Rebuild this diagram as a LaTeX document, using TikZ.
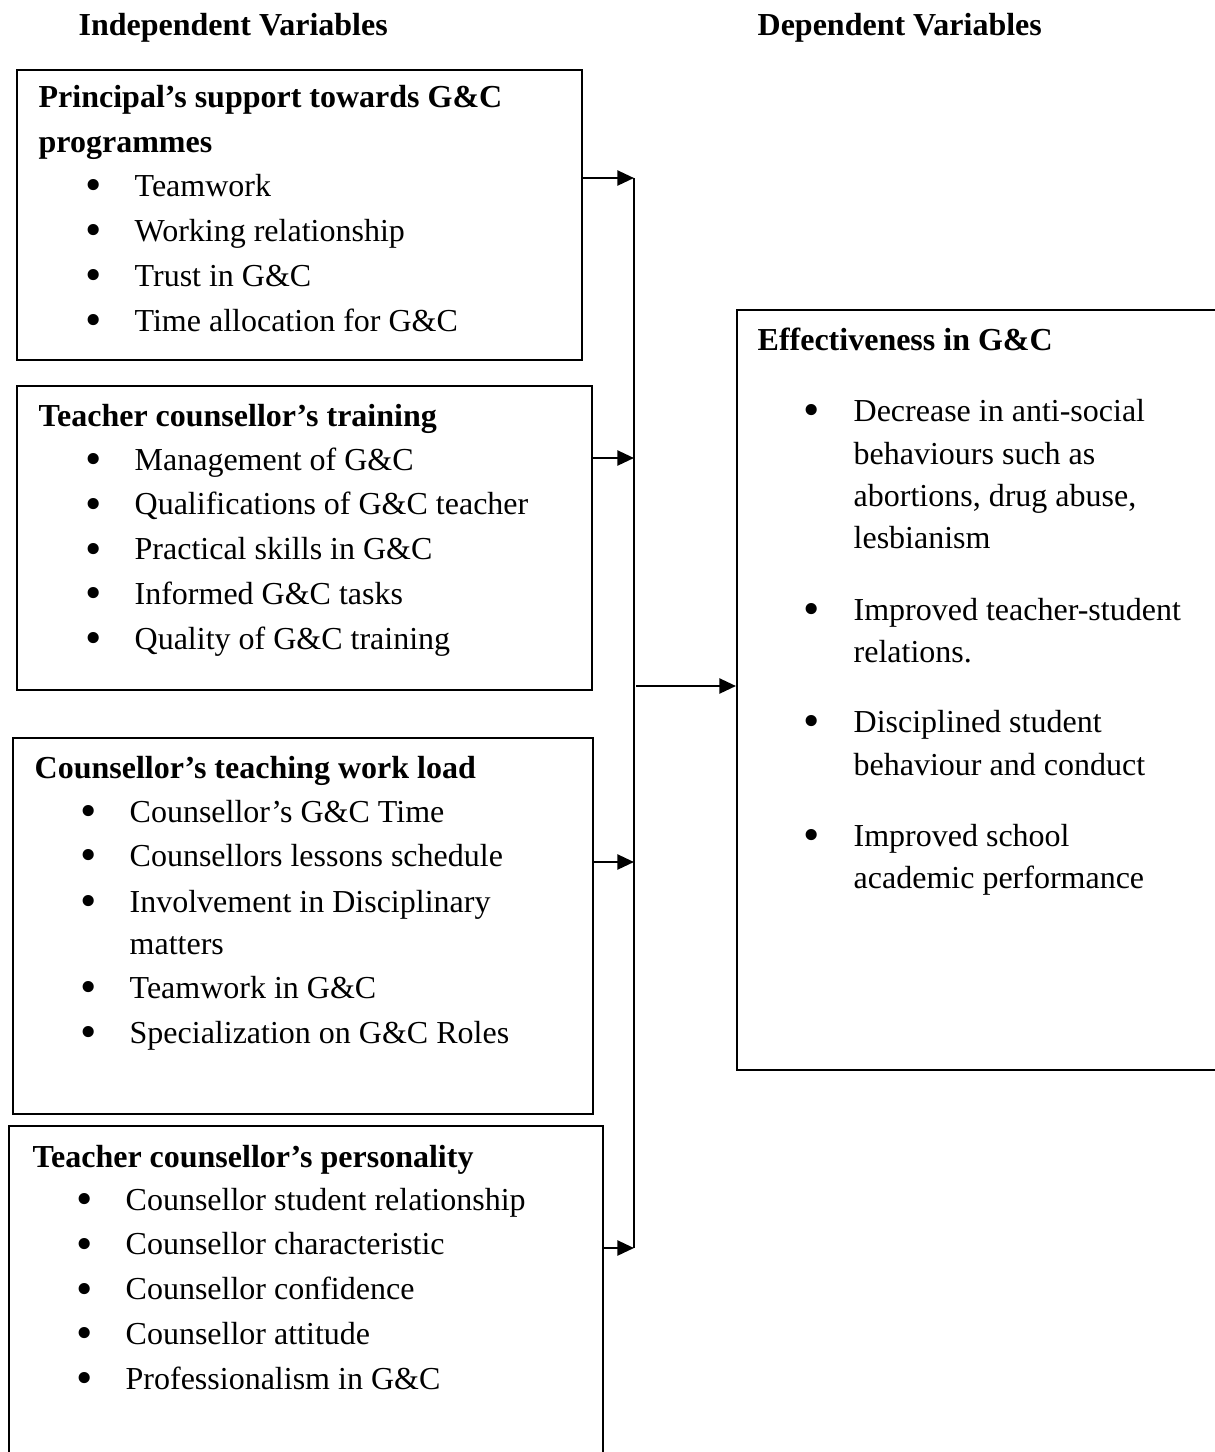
\documentclass[tikz,border=0pt]{standalone}
\usepackage{fontspec}
\setmainfont{Liberation Serif}
\usetikzlibrary{arrows.meta,fit}
\begin{document}
\begin{tikzpicture}[x=0.3pt,y=-0.3pt,
 txt/.style={anchor=base west, inner sep=0pt, font=\fontsize{9.6}{12}\selectfont},
 ttl/.style={anchor=base west, inner sep=0pt, font=\fontsize{9.6}{12}\selectfont\bfseries},
 bul/.style={anchor=base, inner sep=0pt, yshift=-1.35pt, font=\fontsize{14}{14}\selectfont},
 box/.style={draw, line width=0.6pt, inner sep=0pt},
 conn/.style={line width=0.75pt},
 arr/.style={conn, -{Triangle[length=5pt,width=4.5pt]}}]
\useasboundingbox (0,0) rectangle (1215,1452);

% headers
\node[ttl] (h1) at (78,35) {Independent Variables};
\node[ttl] (h2) at (757,35) {Dependent Variables};

% boxes
\node[box, fit={(17,70) (582,360)}] (b1) {};
\node[box, fit={(17,386) (592,690)}] (b2) {};
\node[box, fit={(13,738) (593,1114)}] (b3) {};
\node[box, fit={(9,1126) (603,1470)}] (b4) {};
\node[box, fit={(737,310) (1225,1070)}] (rb) {};

% box 1
\node[ttl] (t1a) at (38,107) {Principal’s support towards G\&C};
\node[ttl] (t1b) at (38,152) {programmes};
\foreach \t [count=\i] in {Teamwork,Working relationship,Trust in G\&C,Time allocation for G\&C}{
  \node[bul] (p1b\i) at (94,{196+45*(\i-1)}) {•};
  \node[txt] (p1t\i) at (134,{196+45*(\i-1)}) {\t};
}

% box 2
\node[ttl] (t2) at (38,426) {Teacher counsellor’s training};
\foreach \t [count=\i] in {Management of G\&C,Qualifications of G\&C teacher,Practical skills in G\&C,Informed G\&C tasks,Quality of G\&C training}{
  \node[bul] (p2b\i) at (94,{470+44.75*(\i-1)}) {•};
  \node[txt] (p2t\i) at (134,{470+44.75*(\i-1)}) {\t};
}

% box 3
\node[ttl] (t3) at (34,778) {Counsellor’s teaching work load};
\node[bul] (p3b1) at (89,822) {•};
\node[txt] (p3t1) at (129,822) {Counsellor’s G\&C Time};
\node[bul] (p3b2) at (89,866) {•};
\node[txt] (p3t2) at (129,866) {Counsellors lessons schedule};
\node[bul] (p3b3) at (89,912) {•};
\node[txt] (p3t3) at (129,912) {Involvement in Disciplinary};
\node[txt] (p3t3b) at (129,954) {matters};
\node[bul] (p3b4) at (89,998) {•};
\node[txt] (p3t4) at (129,998) {Teamwork in G\&C};
\node[bul] (p3b5) at (89,1043) {•};
\node[txt] (p3t5) at (129,1043) {Specialization on G\&C Roles};

% box 4
\node[ttl] (t4) at (32,1167) {Teacher counsellor’s personality};
\foreach \t [count=\i] in {Counsellor student relationship,Counsellor characteristic,Counsellor confidence,Counsellor attitude,Professionalism in G\&C}{
  \node[bul] (p4b\i) at (85,{1210+44.75*(\i-1)}) {•};
  \node[txt] (p4t\i) at (125,{1210+44.75*(\i-1)}) {\t};
}

% right box
\node[ttl] (tr) at (757,350) {Effectiveness in G\&C};
\node[bul] (rb1) at (812,421) {•};
\node[txt] (rt1a) at (853,421) {Decrease in anti-social};
\node[txt] (rt1b) at (853,464) {behaviours such as};
\node[txt] (rt1c) at (853,506) {abortions, drug abuse,};
\node[txt] (rt1d) at (853,548) {lesbianism};
\node[bul] (rb2) at (812,620) {•};
\node[txt] (rt2a) at (853,620) {Improved teacher-student};
\node[txt] (rt2b) at (853,662) {relations.};
\node[bul] (rb3) at (812,732) {•};
\node[txt] (rt3a) at (853,732) {Disciplined student};
\node[txt] (rt3b) at (853,775) {behaviour and conduct};
\node[bul] (rb4) at (812,846) {•};
\node[txt] (rt4a) at (853,846) {Improved school};
\node[txt] (rt4b) at (853,888) {academic performance};

% connectors
\coordinate (j1) at (634,178);
\coordinate (j2) at (634,458);
\coordinate (j3) at (634,862);
\coordinate (j4) at (634,1248);
\coordinate (jm) at (636,686);
\draw[conn] (j1) -- (j4);
\draw[arr] (b1.east |- j1) -- (j1);
\draw[arr] (b2.east |- j2) -- (j2);
\draw[arr] (b3.east |- j3) -- (j3);
\draw[arr] (b4.east |- j4) -- (j4);
\draw[arr] (jm) -- (rb.west |- jm);
\end{tikzpicture}
\end{document}
